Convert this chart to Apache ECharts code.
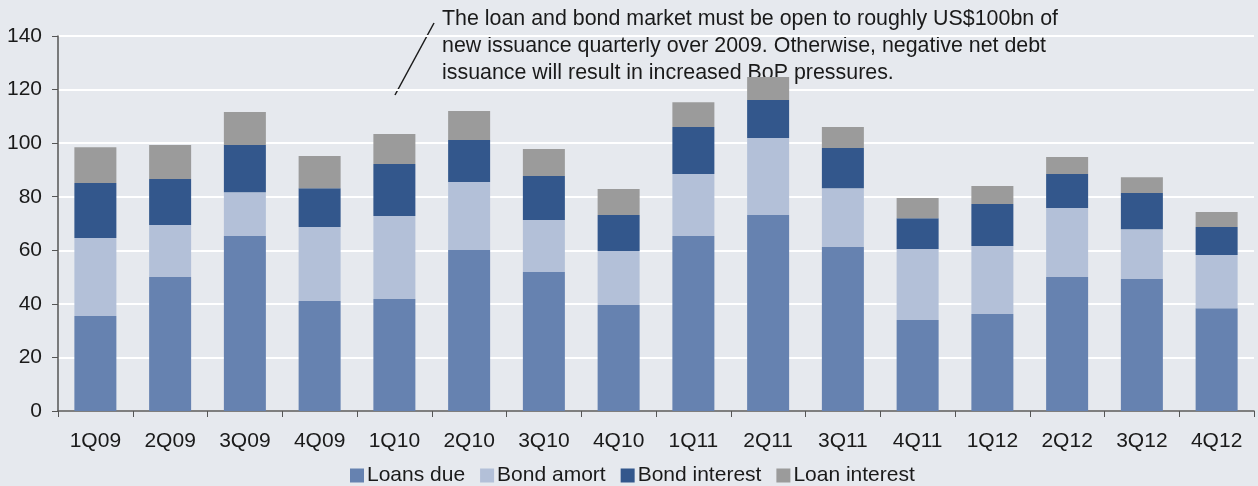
<!DOCTYPE html>
<html>
<head>
<meta charset="utf-8">
<script src="https://cdn.jsdelivr.net/npm/echarts@6/dist/echarts.min.js"></script>
<style>
  html, body { margin: 0; padding: 0; background: #e6e9ee; }
  #chart { width: 1258px; height: 486px; }
</style>
</head>
<body>
<div id="chart"></div>
<script>
// Quarterly external debt service, US$bn
const quarters = ['1Q09','2Q09','3Q09','4Q09','1Q10','2Q10','3Q10','4Q10','1Q11','2Q11','3Q11','4Q11','1Q12','2Q12','3Q12','4Q12'];
const loansDue     = [35.5, 50.0, 65.3, 41.1, 41.8, 60.1, 51.9, 39.6, 65.3, 73.2, 61.2, 34.0, 36.2, 50.0, 49.3, 38.4];
const bondAmort    = [29.1, 19.4, 16.4, 27.6, 31.0, 25.4, 19.4, 20.1, 23.2, 28.7, 22.0, 26.5, 25.4, 25.8, 18.6, 19.8];
const bondInterest = [20.5, 17.2, 17.6, 14.5, 19.4, 15.7, 16.4, 13.5, 17.5, 14.2, 15.0, 11.5, 15.7, 12.7, 13.5, 10.5];
const loanInterest = [13.4, 12.7, 12.3, 12.0, 11.2, 10.8, 10.1,  9.7,  9.3,  8.6,  7.8,  7.5,  6.7,  6.3,  5.9,  5.6];
const seriesNames  = ['Loans due', 'Bond amort', 'Bond interest', 'Loan interest'];
const seriesColors = ['#6682b0', '#b3c0d8', '#33578c', '#9b9b9b'];
const noteLines = [
  'The loan and bond market must be open to roughly US$100bn of',
  'new issuance quarterly over 2009. Otherwise, negative net debt',
  'issuance will result in increased BoP pressures.'
];

const FONT = '"Liberation Sans", Arial, sans-serif';
const FS = 21;
const chart = echarts.init(document.getElementById('chart'));

const values = [loansDue, bondAmort, bondInterest, loanInterest];
const series = seriesNames.map((name, i) => ({
  name,
  type: 'bar',
  stack: 'total',
  barWidth: 42,
  data: values[i],
  itemStyle: { color: seriesColors[i] },
  emphasis: { disabled: true }
}));

chart.setOption({
  backgroundColor: '#e6e9ee',
  animation: false,
  textStyle: { fontFamily: FONT },
  grid: { left: 58, right: 4, top: 36, bottom: 75, containLabel: false },
  xAxis: {
    type: 'category',
    data: quarters,
    axisLine: { lineStyle: { color: '#555', width: 1.5 } },
    axisTick: { show: true, length: 6, lineStyle: { color: '#555' } },
    axisLabel: { color: '#1a1a1a', fontSize: FS, fontFamily: FONT, margin: 20 }
  },
  yAxis: {
    type: 'value',
    min: 0,
    max: 140,
    interval: 20,
    axisLine: { show: true, lineStyle: { color: '#555', width: 1.5 } },
    axisTick: { show: true, length: 6, lineStyle: { color: '#555' } },
    axisLabel: { color: '#1a1a1a', fontSize: FS, fontFamily: FONT, margin: 16 },
    splitLine: { lineStyle: { color: '#ffffff', width: 2 } }
  },
  legend: {
    data: seriesNames,
    left: 345,
    top: 460,
    itemWidth: 14,
    itemHeight: 14,
    itemGap: 15,
    icon: 'rect',
    textStyle: { color: '#1a1a1a', fontSize: FS, fontFamily: FONT, padding: [0, 0, 0, -2] }
  },
  graphic: [
    {
      type: 'text',
      left: 442,
      top: 6,
      style: {
        text: noteLines.join('\n'),
        font: '21.4px ' + FONT,
        fill: '#1a1a1a',
        lineHeight: 27
      }
    },
    {
      type: 'line',
      shape: { x1: 395, y1: 95, x2: 434, y2: 23 },
      style: { stroke: '#1a1a1a', lineWidth: 1.5 }
    }
  ],
  series
});
</script>
</body>
</html>
